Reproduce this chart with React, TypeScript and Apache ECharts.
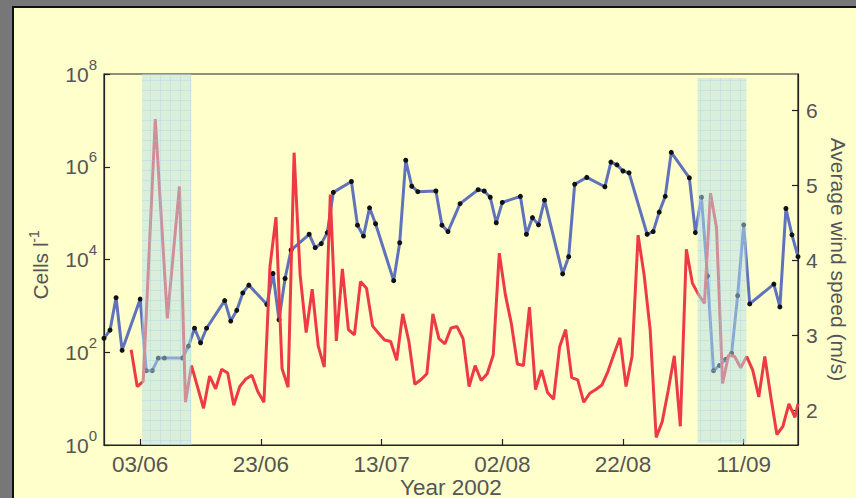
import React, { useEffect, useRef } from 'react';
import * as echarts from 'echarts';

// x values are day offsets from 03/06/2002
const blueDays = [-6, -5, -4, -3, 0, 1, 2, 3, 4, 7, 8, 9, 10, 11, 14, 15, 16, 17, 18, 21, 22, 23, 24, 25, 28, 29, 30, 31, 32, 35, 36, 37, 38, 39, 42, 43, 44, 45, 46, 49, 50, 51, 53, 56, 57, 58, 59, 60, 63, 64, 65, 66, 67, 70, 71, 72, 74, 77, 78, 79, 80, 81, 84, 85, 86, 87, 88, 91, 92, 93, 94, 95, 96, 97, 98, 99, 100, 101, 105, 106, 107, 108, 109];
const blueCells = [200, 300, 1500, 110, 1400, 40, 40, 75, 75, 75, 135, 330, 160, 330, 1300, 470, 800, 1900, 2800, 1070, 5000, 500, 3900, 16000, 35000, 18000, 22000, 38000, 280000, 480000, 55000, 32000, 130000, 59000, 3500, 23000, 1380000, 380000, 290000, 300000, 55000, 40000, 160000, 320000, 300000, 220000, 62000, 170000, 230000, 35000, 80000, 56000, 190000, 4900, 11500, 420000, 590000, 370000, 1260000, 1100000, 810000, 740000, 35000, 40000, 105000, 230000, 2040000, 575000, 38000, 220000, 4400, 40, 52, 70, 95, 1660, 56000, 1100, 2950, 950, 126000, 34000, 11500];

const redDays = [-1.5, -0.5, 0.5, 2.5, 4.5, 6.5, 7.5, 8.5, 10.5, 11.5, 12.5, 13.5, 14.5, 15.5, 16.5, 17.5, 18.5, 19.5, 20.5, 21.5, 22.5, 23.5, 24.5, 25.5, 26.5, 27.5, 28.5, 29.5, 30.5, 31.5, 32.5, 33.5, 34.5, 35.5, 36.5, 37.5, 38.5, 39.5, 40.5, 41.5, 42.5, 43.5, 44.5, 45.5, 46.5, 47.5, 48.5, 49.5, 50.5, 51.5, 52.5, 53.5, 54.5, 55.5, 56.5, 57.5, 58.5, 59.5, 60.5, 61.5, 62.5, 63.5, 64.5, 65.5, 66.5, 67.5, 68.5, 69.5, 70.5, 71.5, 72.5, 73.5, 74.5, 75.5, 76.5, 77.5, 78.5, 79.5, 80.5, 81.5, 82.5, 83.5, 84.5, 85.5, 86.5, 87.5, 88.5, 89.5, 90.5, 91.5, 92.5, 93.5, 94.5, 95.5, 96.5, 97.5, 98.5, 99.5, 100.5, 101.5, 102.5, 103.5, 104.5, 105.5, 106.5, 107.5, 108.5, 109];
const redWind = [2.81, 2.32, 2.39, 5.89, 3.23, 4.99, 2.11, 2.60, 2.03, 2.46, 2.29, 2.55, 2.50, 2.07, 2.32, 2.42, 2.47, 2.25, 2.11, 3.92, 4.58, 2.56, 2.31, 5.44, 3.81, 3.04, 3.62, 2.86, 2.58, 4.88, 2.93, 3.89, 3.08, 3.01, 3.72, 3.63, 3.13, 3.03, 2.94, 2.92, 2.67, 3.29, 2.93, 2.35, 2.41, 2.49, 3.29, 2.96, 2.89, 3.10, 3.12, 2.96, 2.32, 2.60, 2.40, 2.49, 2.74, 4.10, 3.55, 3.16, 2.62, 2.60, 3.38, 2.28, 2.54, 2.24, 2.15, 2.85, 3.08, 2.44, 2.41, 2.11, 2.23, 2.28, 2.34, 2.52, 2.75, 2.97, 2.32, 2.72, 4.34, 3.81, 3.08, 1.64, 1.85, 2.27, 2.73, 1.79, 4.15, 3.70, 3.55, 3.43, 4.90, 4.44, 2.36, 2.74, 2.72, 2.57, 2.72, 2.54, 2.18, 2.72, 2.18, 1.68, 1.79, 2.09, 1.91, 2.09];

// shaded periods: [startDay, endDay, bottomCells, topCells]
const shadedPeriods = [
  [0.3, 8.47, 1, 1e8],
  [92.35, 100.45, 1.1, 8.2e7],
];

const xRange = [-6, 109];
const windRange = [1.54, 6.49];
const cellsRange = [1, 1e8];

const FONT = '"Liberation Sans", Arial, Helvetica, sans-serif';
const TXT = '#555555';
const AX = '#222222';

function dayLabel(v: number): string {
  if (Math.abs(v % 20) > 1e-6) return '';
  const d = new Date(Date.UTC(2002, 5, 3 + v));
  const dd = String(d.getUTCDate()).padStart(2, '0');
  const mm = String(d.getUTCMonth() + 1).padStart(2, '0');
  return dd + '/' + mm;
}

function makeGridPattern(): HTMLCanvasElement {
  const c = document.createElement('canvas');
  c.width = 10;
  c.height = 10;
  const ctx = c.getContext('2d')!;
  ctx.clearRect(0, 0, 10, 10);
  ctx.fillStyle = 'rgba(150,205,230,0.28)';
  ctx.fillRect(0, 0, 10, 1);
  ctx.fillRect(0, 0, 1, 10);
  return c;
}

export default function App() {
  const ref = useRef<HTMLDivElement>(null);
  useEffect(() => {
    const chart = echarts.init(ref.current!, null, { renderer: 'svg' });
    const axisLine = { show: true, onZero: false, lineStyle: { color: AX, width: 1.2 } };
    const axisTick = { show: true, inside: true, length: 6, lineStyle: { color: AX, width: 1.2 } };
    const option: any = {
      animation: false,
      backgroundColor: 'transparent',
      grid: {
        left: 104, right: 58, top: 74, bottom: 53,
        containLabel: false, outerBoundsMode: 'none',
        show: true, borderColor: AX, borderWidth: 1.2, backgroundColor: 'transparent',
      },
      graphic: [
        {
          type: 'text', x: 40, y: 271, rotation: Math.PI / 2, silent: true,
          style: { text: 'Cells l', fontSize: 21, fontFamily: FONT, fill: TXT, align: 'center', verticalAlign: 'middle' },
        },
        {
          type: 'text', x: 33.5, y: 236.5, rotation: Math.PI / 2, silent: true,
          style: { text: '-1', fontSize: 14, fontFamily: FONT, fill: TXT, align: 'center', verticalAlign: 'middle' },
        },
      ],
      xAxis: {
        type: 'value', min: xRange[0], max: xRange[1], minInterval: 20, maxInterval: 20,
        name: 'Year 2002', nameLocation: 'middle', nameGap: 31, nameMoveOverlap: false,
        nameTextStyle: { color: TXT, fontSize: 22.5, fontFamily: FONT },
        axisLine, axisTick,
        axisLabel: { color: TXT, fontSize: 22.5, fontFamily: FONT, margin: 8, formatter: dayLabel, showMinLabel: false, showMaxLabel: false },
        splitLine: { show: false },
      },
      yAxis: [
        {
          type: 'log', logBase: 10, min: cellsRange[0], max: cellsRange[1], interval: 2,
          position: 'left',
          axisLine, axisTick,
          axisLabel: {
            margin: 7,
            formatter: (v: number) => '{b|10}{s|' + Math.round(Math.log10(v)) + '}',
            rich: {
              b: { color: TXT, fontSize: 21, fontFamily: FONT },
              s: { color: TXT, fontSize: 15, fontFamily: FONT, padding: [0, 0, 20, 0] },
            },
          },
          splitLine: { show: false },
        },
        {
          type: 'value', min: windRange[0], max: windRange[1], minInterval: 1, maxInterval: 1,
          position: 'right',
          name: 'Average wind speed (m/s)', nameLocation: 'middle', nameGap: 30, nameRotate: -90, nameMoveOverlap: false,
          nameTextStyle: { color: TXT, fontSize: 21, fontFamily: FONT },
          axisLine, axisTick,
          axisLabel: {
            color: TXT, fontSize: 21, fontFamily: FONT, margin: 8,
            showMinLabel: false, showMaxLabel: false,
            formatter: (v: number) => (Math.abs(v - Math.round(v)) < 1e-6 ? String(Math.round(v)) : ''),
          },
          splitLine: { show: false },
        },
      ],
      series: [
        {
          type: 'line', name: 'Cells', xAxisIndex: 0, yAxisIndex: 0, z: 2,
          data: blueDays.map((d, i) => [d, blueCells[i]]),
          showSymbol: true, symbol: 'circle', symbolSize: 5,
          itemStyle: { color: '#111' },
          lineStyle: { color: '#5f72bb', width: 3 },
          markArea: {
            z: 10, silent: true,
            itemStyle: { color: 'rgba(180,224,236,0.5)' },
            data: shadedPeriods.map((p) => [{ coord: [p[0], p[2]] }, { coord: [p[1], p[3]] }]),
          },
        },
        {
          type: 'line', name: 'Wind', xAxisIndex: 0, yAxisIndex: 1, z: 3,
          data: redDays.map((d, i) => [d, redWind[i]]),
          showSymbol: false,
          lineStyle: { color: '#ee3a44', width: 3 },
        },
        {
          type: 'line', name: 'pattern', xAxisIndex: 0, yAxisIndex: 0, z: 11,
          data: [],
          markArea: {
            z: 11, silent: true,
            itemStyle: { color: { image: makeGridPattern(), repeat: 'repeat' } },
            data: shadedPeriods.map((p) => [{ coord: [p[0], p[2]] }, { coord: [p[1], p[3]] }]),
          },
        },
      ],
    };
    chart.setOption(option);
    return () => chart.dispose();
  }, []);
  return (
    <div style={{ position: 'fixed', left: 0, top: 0, width: 856, height: 498, background: '#777', overflow: 'hidden' }}>
      <div style={{ position: 'absolute', left: 12, top: 6, right: 0, bottom: 0, background: '#111' }} />
      <div style={{ position: 'absolute', left: 14, top: 8, right: 0, bottom: 0, background: '#FFFFCC' }} />
      <div ref={ref} style={{ position: 'absolute', left: 0, top: 0, width: 856, height: 498 }} />
    </div>
  );
}
